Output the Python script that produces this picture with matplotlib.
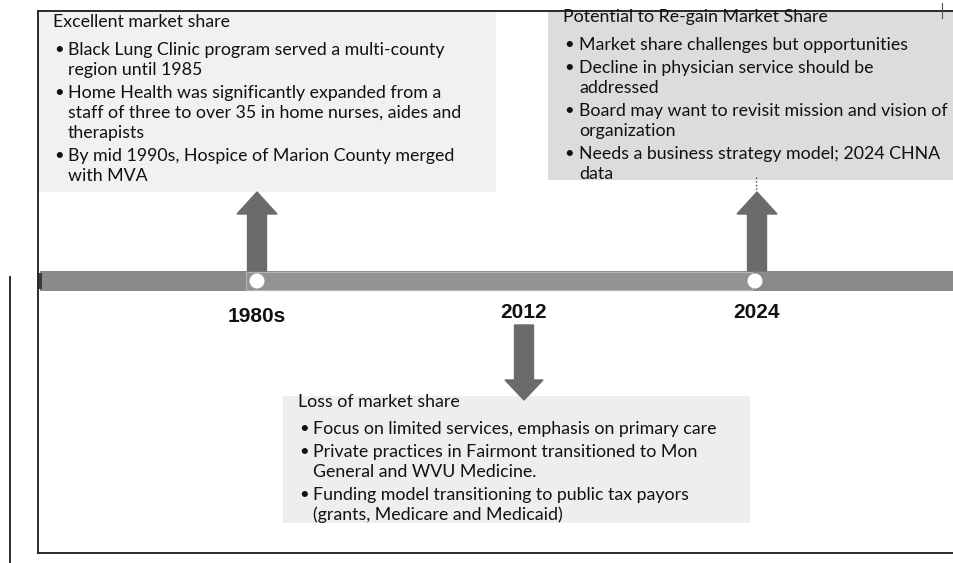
import matplotlib.pyplot as plt
from matplotlib.patches import Rectangle, FancyArrow, Circle

# Timeline milestones (label under the bar) and which way the callout arrow points
periods = ["1980s", "2012", "2024"]
arrow_dirs = ["up", "down", "up"]

# Callout headings and bullets (line breaks as in the slide)
headings = [
    "Excellent market share",
    "Loss of market share",
    "Potential to Re-gain Market Share",
]
bullets = [
    [
        ["Black Lung Clinic program served a multi-county", "region until 1985"],
        ["Home Health was significantly expanded from a",
         "staff of three to over 35 in home nurses, aides and", "therapists"],
        ["By mid 1990s, Hospice of Marion County merged", "with MVA"],
    ],
    [
        ["Focus on limited services, emphasis on primary care"],
        ["Private practices in Fairmont transitioned to Mon",
         "General and WVU Medicine."],
        ["Funding model transitioning to public tax payors",
         "(grants, Medicare and Medicaid)"],
    ],
    [
        ["Market share challenges but opportunities"],
        ["Decline in physician service should be", "addressed"],
        ["Board may want to revisit mission and vision of", "organization"],
        ["Needs a business strategy model; 2024 CHNA", "data"],
    ],
]

# ---- layout (pixel coordinates, y going down) ----
W, H = 954, 563
marker_x = [257, 524, 757]
label_y = [317, 313, 312]
boxes = [(38, 12, 458, 180, "#f1f1f1"),
         (283, 396, 467, 127, "#eeeeee"),
         (548, 10, 410, 170, "#dcdcdc")]
text_x = [(53, 54, 68), (298, 299, 313), (563, 564, 579)]
head_y = [22, 402, 17]
first_y = [50, 429, 45]
BAR_Y0, BAR_Y1 = 271, 291
LINE_STEP, BULLET_STEP = 20, 23
FS = 12.8

plt.rcParams["font.family"] = ["Lato", "DejaVu Sans"]
fig = plt.figure(figsize=(W / 100, H / 100), dpi=100)
ax = fig.add_axes([0, 0, 1, 1])
ax.set_xlim(0, W)
ax.set_ylim(H, 0)
ax.axis("off")

# callout boxes
for x, y, w, h, c in boxes:
    ax.add_patch(Rectangle((x, y), w, h, facecolor=c, edgecolor="none", zorder=1))

# frame lines
ax.plot([38, W], [11, 11], color="#2a2a2a", lw=1.4, zorder=5)
ax.plot([38, 38], [11, 553], color="#2a2a2a", lw=1.4, zorder=5)
ax.plot([38, W], [553, 553], color="#2a2a2a", lw=1.4, zorder=5)
ax.plot([10, 10], [277, H], color="#2a2a2a", lw=1.4, zorder=5)
ax.plot([942, 942], [3, 18], color="#555555", lw=0.8, zorder=5)

# timeline bar
ax.add_patch(Rectangle((40, BAR_Y0), W - 40, BAR_Y1 - BAR_Y0,
                       facecolor="#8a8a8a", edgecolor="none", zorder=2))
ax.add_patch(Rectangle((246, BAR_Y0 + 1), 506, BAR_Y1 - BAR_Y0 - 2,
                       facecolor="#939393", edgecolor="#b4b4b4", lw=0.8, zorder=3))
ax.add_patch(Rectangle((38, BAR_Y0 + 2), 4, BAR_Y1 - BAR_Y0 - 4,
                       facecolor="#3a3a3a", edgecolor="none", zorder=3))
for x in (marker_x[0], marker_x[2] - 2):
    ax.add_patch(Circle((x, (BAR_Y0 + BAR_Y1) / 2), 7.5, facecolor="white",
                        edgecolor="none", zorder=4))

# arrows
for x, d in zip(marker_x, arrow_dirs):
    if d == "up":
        ax.add_patch(FancyArrow(x, BAR_Y0, 0, -(BAR_Y0 - 192), width=19,
                                head_width=40, head_length=22,
                                length_includes_head=True,
                                color="#6b6b6b", zorder=4))
    else:
        ax.add_patch(FancyArrow(x, 325, 0, 75, width=19, head_width=38,
                                head_length=20, length_includes_head=True,
                                color="#6b6b6b", zorder=4))
ax.plot([756, 756], [177, 192], color="#444444", lw=1, ls=":", zorder=4)

# period labels
for x, y, lab in zip(marker_x, label_y, periods):
    ax.text(x, y, lab, ha="center", va="center", fontsize=15, fontweight="bold",
            family=["Liberation Sans Narrow", "Liberation Sans"],
            color="#111111", zorder=6)

# callout text
for (hx, bx, tx), hy, fy, head, items in zip(text_x, head_y, first_y, headings, bullets):
    ax.text(hx, hy, head, ha="left", va="center", fontsize=FS,
            color="#111111", zorder=6)
    y = fy
    for item in items:
        ax.text(bx, y, "\u2022", ha="left", va="center", fontsize=FS - 1,
                color="#111111", zorder=6)
        for line in item:
            ax.text(tx, y, line, ha="left", va="center", fontsize=FS,
                    color="#111111", zorder=6)
            y += LINE_STEP
        y += BULLET_STEP - LINE_STEP

fig.savefig("out.png", dpi=100)
